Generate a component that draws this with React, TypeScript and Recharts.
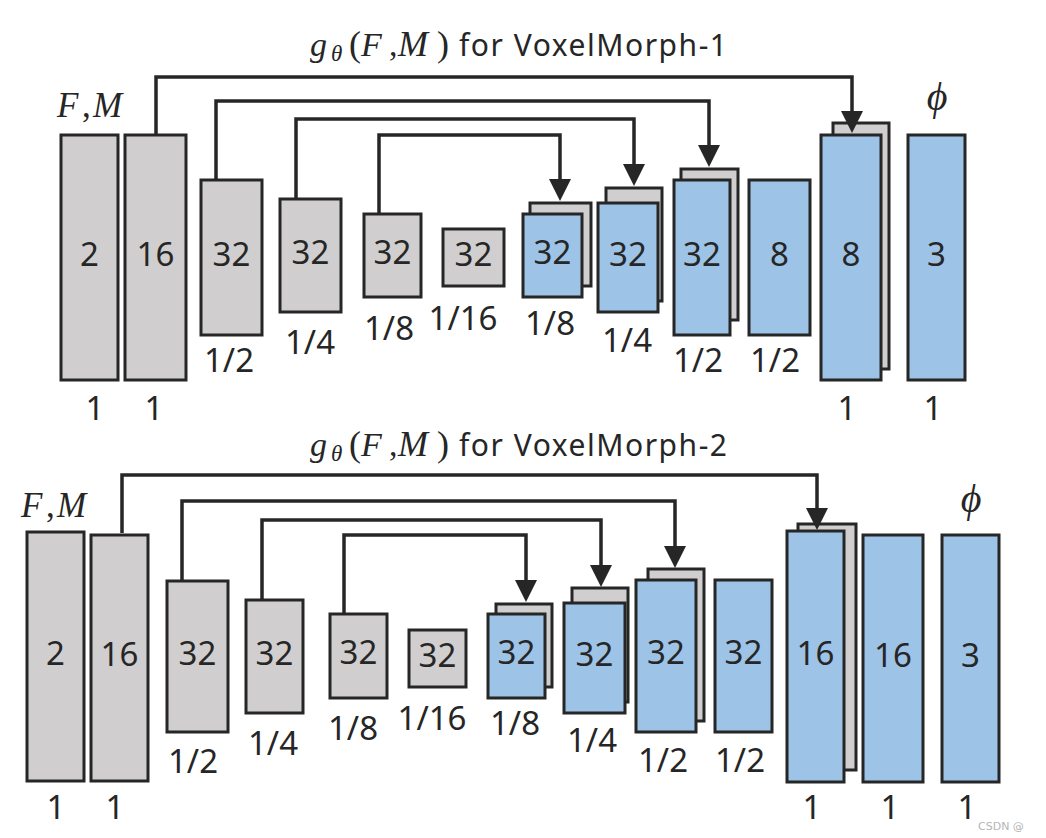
import React from 'react';
import { ComposedChart, XAxis, YAxis, ReferenceArea, Line, Scatter } from 'recharts';

// canvas is laid out in pixel-like data units (x right, y down)
const CHART_W = 1046;
const CHART_H = 838;

const GRAY = '#d0cece';
const BLUE = '#9dc3e6';
const INK = '#262626';
const SANS = "'Noto Sans', 'Open Sans', sans-serif";
const SERIF = "'Liberation Serif', 'DejaVu Serif', serif";

// ---------- VoxelMorph-1 ----------
const vm1Channels = ['2', '16', '32', '32', '32', '32', '32', '32', '32', '8', '8', '3'];
const vm1Scales = ['1', '1', '1/2', '1/4', '1/8', '1/16', '1/8', '1/4', '1/2', '1/2', '1', '1'];
const vm1Left = [61, 125, 201, 280, 364, 443, 523, 598, 674, 749, 821, 908];
const vm1Right = [118, 186, 262, 341, 421, 504, 582, 658, 730, 810, 881, 965];
const vm1Top = [135, 135, 180, 199, 214, 229, 214, 203, 180, 180, 135, 135];
const vm1Bottom = [380, 380, 335, 312, 297, 286, 297, 312, 335, 335, 380, 380];
const vm1ScaleX = [95, 154, 229, 310, 389, 463, 550, 627, 698, 775, 847, 933];
const vm1ScaleY = [420, 420, 372, 354, 340, 330, 335, 352, 372, 372, 420, 420];
// concatenated (skip) feature maps drawn behind decoder blocks
const vm1ShadowLeft = [530, 606, 681, 833];
const vm1ShadowRight = [591, 662, 738, 889];
const vm1ShadowTop = [203, 188, 169, 123];
const vm1ShadowBottom = [286, 301, 320, 369];
// skip connections
const vm1SkipFromX = [156, 216, 296, 379];
const vm1SkipFromY = [135, 180, 199, 214];
const vm1SkipRailY = [77, 101, 119, 135];
const vm1SkipToX = [852, 709, 634, 560];
const vm1SkipTipY = [133, 167, 186, 201];
const vm1Title = { x: 310, y: 56, name: 'VoxelMorph-1' };
const vm1Input = { x: 57, y: 117 };
const vm1Output = { x: 937, y: 110 };

// ---------- VoxelMorph-2 ----------
const vm2Channels = ['2', '16', '32', '32', '32', '32', '32', '32', '32', '32', '16', '16', '3'];
const vm2Scales = ['1', '1', '1/2', '1/4', '1/8', '1/16', '1/8', '1/4', '1/2', '1/2', '1', '1', '1'];
const vm2Left = [27, 91, 167, 246, 330, 409, 488, 564, 636, 715, 787, 863, 942];
const vm2Right = [84, 148, 228, 303, 387, 466, 545, 625, 696, 772, 844, 923, 999];
const vm2Top = [532, 535, 581, 600, 614, 630, 614, 603, 580, 580, 531, 535, 535];
const vm2Bottom = [781, 781, 732, 713, 698, 687, 698, 713, 732, 732, 782, 782, 782];
const vm2ScaleX = [56, 115, 193, 273, 353, 432, 515, 592, 663, 740, 812, 890, 967];
const vm2ScaleY = [819, 819, 773, 755, 740, 730, 735, 752, 772, 772, 819, 819, 819];
const vm2ShadowLeft = [496, 572, 648, 798];
const vm2ShadowRight = [552, 628, 704, 856];
const vm2ShadowTop = [604, 588, 569, 524];
const vm2ShadowBottom = [687, 702, 721, 770];
const vm2SkipFromX = [122, 182, 262, 344];
const vm2SkipFromY = [533, 581, 600, 614];
const vm2SkipRailY = [475, 501, 520, 535];
const vm2SkipToX = [817, 675, 601, 526];
const vm2SkipTipY = [530, 568, 587, 602];
const vm2Title = { x: 310, y: 456, name: 'VoxelMorph-2' };
const vm2Input = { x: 21, y: 517 };
const vm2Output = { x: 971, y: 512 };

const ENCODER_COUNT = 6;
const ARROW_LEN = 20;

const nets = [
  {
    id: 'vm1', channels: vm1Channels, scales: vm1Scales, left: vm1Left, right: vm1Right,
    top: vm1Top, bottom: vm1Bottom, scaleX: vm1ScaleX, scaleY: vm1ScaleY,
    shLeft: vm1ShadowLeft, shRight: vm1ShadowRight, shTop: vm1ShadowTop, shBottom: vm1ShadowBottom,
    fromX: vm1SkipFromX, fromY: vm1SkipFromY, railY: vm1SkipRailY, toX: vm1SkipToX, tipY: vm1SkipTipY,
    title: vm1Title, input: vm1Input, output: vm1Output,
  },
  {
    id: 'vm2', channels: vm2Channels, scales: vm2Scales, left: vm2Left, right: vm2Right,
    top: vm2Top, bottom: vm2Bottom, scaleX: vm2ScaleX, scaleY: vm2ScaleY,
    shLeft: vm2ShadowLeft, shRight: vm2ShadowRight, shTop: vm2ShadowTop, shBottom: vm2ShadowBottom,
    fromX: vm2SkipFromX, fromY: vm2SkipFromY, railY: vm2SkipRailY, toX: vm2SkipToX, tipY: vm2SkipTipY,
    title: vm2Title, input: vm2Input, output: vm2Output,
  },
];

// text drawn at a data point
const NumberText = (props: any) => (
  <text x={props.cx} y={props.cy + 8} textAnchor="middle" fontFamily={SANS} fontSize={33} fill={INK}>
    {props.payload.label}
  </text>
);

const ScaleText = (props: any) => (
  <text x={props.cx} y={props.cy} textAnchor="middle" fontFamily={SANS} fontSize={33} fill={INK}>
    {props.payload.label}
  </text>
);

const ArrowHead = (props: any) => {
  const { cx, cy } = props;
  return <polygon points={`${cx},${cy} ${cx - 11},${cy - 22} ${cx + 11},${cy - 22}`} fill={INK} />;
};

// g_θ(F,M) in math italics followed by the model name in sans
const TitleText = (props: any) => {
  const { cx, cy, payload } = props;
  return (
    <g>
      <text y={cy} fontFamily={SERIF} fontSize={34} fill={INK}>
        <tspan x={cx} fontStyle="italic">g</tspan>
        <tspan x={cx + 21} fontStyle="italic" fontSize={23} dy={5}>θ</tspan>
        <tspan x={cx + 39} dy={-5} fontSize={36}>(</tspan>
        <tspan x={cx + 51} fontStyle="italic">F</tspan>
        <tspan x={cx + 79}>,</tspan>
        <tspan x={cx + 88} fontStyle="italic" fontSize={36}>M</tspan>
        <tspan x={cx + 127} fontSize={36}>)</tspan>
      </text>
      <text x={cx + 149} y={cy} fontFamily={SANS} fontSize={30} fill={INK} textLength={268} lengthAdjust="spacing">
        {`for ${payload.name}`}
      </text>
    </g>
  );
};

const InputText = (props: any) => (
  <text y={props.cy} fontFamily={SERIF} fontSize={35} fill={INK}>
    <tspan x={props.cx} fontStyle="italic">F</tspan>
    <tspan x={props.cx + 25}>,</tspan>
    <tspan x={props.cx + 36} fontStyle="italic">M</tspan>
  </text>
);

const OutputText = (props: any) => (
  <text x={props.cx} y={props.cy} textAnchor="middle" fontFamily={SERIF} fontStyle="italic" fontSize={40} fill={INK}>
    ϕ
  </text>
);

const WatermarkText = (props: any) => (
  <text x={props.cx} y={props.cy} fontFamily="'DejaVu Sans', sans-serif" fontSize={11} fill="#b5b5b5">
    {props.payload.label}
  </text>
);

const watermark = [{ x: 978, y: 830, label: 'CSDN @' }];

function renderNet(net: any) {
  const shadows = net.shLeft.map((l: number, i: number) => (
    <ReferenceArea
      key={`${net.id}-sh-${i}`}
      x1={l}
      x2={net.shRight[i]}
      y1={net.shTop[i]}
      y2={net.shBottom[i]}
      fill={GRAY}
      fillOpacity={1}
      stroke={INK}
      strokeWidth={3}
    />
  ));
  const blocks = net.channels.map((_: string, i: number) => (
    <ReferenceArea
      key={`${net.id}-blk-${i}`}
      x1={net.left[i]}
      x2={net.right[i]}
      y1={net.top[i]}
      y2={net.bottom[i]}
      fill={i < ENCODER_COUNT ? GRAY : BLUE}
      fillOpacity={1}
      stroke={INK}
      strokeWidth={3}
    />
  ));
  const skips = net.fromX.map((fx: number, i: number) => (
    <Line
      key={`${net.id}-skip-${i}`}
      data={[
        { x: fx, y: net.fromY[i] },
        { x: fx, y: net.railY[i] },
        { x: net.toX[i], y: net.railY[i] },
        { x: net.toX[i], y: net.tipY[i] - ARROW_LEN },
      ]}
      dataKey="y"
      stroke={INK}
      strokeWidth={3.5}
      strokeLinejoin="miter"
      dot={false}
      activeDot={false}
      isAnimationActive={false}
    />
  ));
  const heads = net.toX.map((x: number, i: number) => ({ x, y: net.tipY[i] }));
  const numbers = net.channels.map((label: string, i: number) => ({
    x: (net.left[i] + net.right[i]) / 2,
    y: (net.top[i] + net.bottom[i]) / 2,
    label,
  }));
  const scaleLabels = net.scales.map((label: string, i: number) => ({
    x: net.scaleX[i],
    y: net.scaleY[i],
    label,
  }));
  return [
    ...shadows,
    ...blocks,
    ...skips,
    <Scatter key={`${net.id}-heads`} data={heads} shape={ArrowHead} isAnimationActive={false} />,
    <Scatter key={`${net.id}-nums`} data={numbers} shape={NumberText} isAnimationActive={false} />,
    <Scatter key={`${net.id}-scales`} data={scaleLabels} shape={ScaleText} isAnimationActive={false} />,
    <Scatter key={`${net.id}-title`} data={[net.title]} shape={TitleText} isAnimationActive={false} />,
    <Scatter key={`${net.id}-in`} data={[net.input]} shape={InputText} isAnimationActive={false} />,
    <Scatter key={`${net.id}-out`} data={[net.output]} shape={OutputText} isAnimationActive={false} />,
  ];
}

export default function App() {
  return (
    <div style={{ position: 'absolute', left: 0, top: 0, width: CHART_W, height: CHART_H, background: '#fff' }}>
      <ComposedChart width={CHART_W} height={CHART_H} margin={{ top: 0, right: 0, bottom: 0, left: 0 }}>
        <XAxis type="number" dataKey="x" domain={[0, CHART_W]} allowDataOverflow hide />
        <YAxis type="number" dataKey="y" domain={[0, CHART_H]} allowDataOverflow reversed hide />
        {renderNet(nets[0])}
        {renderNet(nets[1])}
        <Scatter data={watermark} shape={WatermarkText} isAnimationActive={false} />
      </ComposedChart>
    </div>
  );
}
